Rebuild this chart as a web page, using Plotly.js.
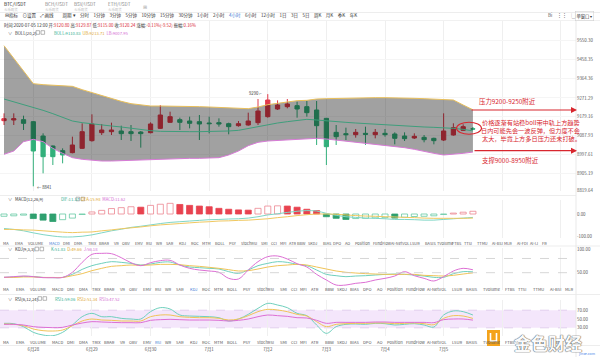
<!DOCTYPE html>
<html><head><meta charset="utf-8">
<script src="https://cdn.plot.ly/plotly-3.0.1.min.js"></script>
<style>html,body{margin:0;padding:0;background:#fff;}#chart{width:600px;height:357px;}</style>
</head><body><div id="chart"></div>
<script>
const times=["2020-06-27 12:00","2020-06-27 16:00","2020-06-27 20:00",
"2020-06-28 00:00","2020-06-28 04:00","2020-06-28 08:00","2020-06-28 12:00","2020-06-28 16:00","2020-06-28 20:00",
"2020-06-29 00:00","2020-06-29 04:00","2020-06-29 08:00","2020-06-29 12:00","2020-06-29 16:00","2020-06-29 20:00",
"2020-06-30 00:00","2020-06-30 04:00","2020-06-30 08:00","2020-06-30 12:00","2020-06-30 16:00","2020-06-30 20:00",
"2020-07-01 00:00","2020-07-01 04:00","2020-07-01 08:00","2020-07-01 12:00","2020-07-01 16:00","2020-07-01 20:00",
"2020-07-02 00:00","2020-07-02 04:00","2020-07-02 08:00","2020-07-02 12:00","2020-07-02 16:00","2020-07-02 20:00",
"2020-07-03 00:00","2020-07-03 04:00","2020-07-03 08:00","2020-07-03 12:00","2020-07-03 16:00","2020-07-03 20:00",
"2020-07-04 00:00","2020-07-04 04:00","2020-07-04 08:00","2020-07-04 12:00","2020-07-04 16:00","2020-07-04 20:00",
"2020-07-05 00:00","2020-07-05 04:00","2020-07-05 08:00","2020-07-05 12:00"];
const open=[9160.8,9164.0,9165.7,9155.9,9086.1,9037.4,9014.7,9004.9,9026.0,9063.4,9102.4,9107.2,9110.5,9107.2,9105.6,9102.4,9123.4,9152.7,9165.7,9159.2,9155.9,9149.4,9151.1,9146.2,9136.4,9139.7,9151.1,9180.3,9217.6,9229.0,9233.9,9229.0,9212.8,9172.2,9104.0,9097.5,9092.6,9099.1,9092.6,9099.1,9095.9,9086.1,9076.4,9079.6,9074.7,9066.6,9091.0,9113.7,9120.80];
const high=[9196.5,9196.5,9185.2,9159.2,9099.1,9040.0,9026.0,9082.9,9147.8,9191.7,9144.6,9151.1,9136.4,9139.7,9110.5,9152.7,9237.1,9204.6,9175.4,9180.3,9188.4,9180.3,9172.2,9151.1,9159.2,9199.8,9266.3,9290.0,9259.8,9266.3,9253.3,9256.6,9256.6,9172.2,9139.7,9126.7,9120.2,9131.6,9120.2,9120.2,9104.0,9104.0,9099.1,9091.0,9078.0,9196.5,9148.0,9142.9,9129.87];
const low=[9139.7,9139.7,9115.3,8841.0,8904.2,8944.8,8953.0,9001.7,9022.8,9058.5,9091.0,9091.0,9066.6,9061.7,9029.3,9099.1,9120.2,9151.1,9115.3,9123.4,9066.6,9099.1,9131.6,9094.2,9131.6,9136.4,9139.7,9175.4,9212.8,9220.9,9175.4,9180.3,9042.3,8944.8,9042.3,9066.6,9078.0,9042.3,9074.7,9082.9,9045.5,9061.7,9071.5,9055.3,9045.5,9061.7,9087.7,9110.5,9115.00];
const close=[9170.5,9170.5,9147.8,9013.0,8985.4,8985.4,8993.6,9042.3,9107.2,9144.6,9115.3,9115.3,9097.5,9097.5,9097.5,9144.6,9188.4,9180.3,9152.7,9147.8,9144.6,9146.2,9144.6,9131.6,9146.2,9159.2,9207.9,9261.5,9237.1,9242.0,9217.6,9199.8,9136.4,9034.1,9082.9,9092.6,9104.0,9094.2,9104.0,9092.6,9074.7,9073.1,9084.5,9068.2,9063.4,9110.5,9126.7,9131.6,9120.24];
const bollUp=[9526.1,9464.4,9399.5,9341.0,9336.2,9334.5,9332.9,9328.0,9311.8,9297.2,9284.2,9269.6,9255.0,9243.6,9237.1,9232.2,9232.2,9232.2,9230.6,9230.6,9229.0,9227.4,9225.8,9224.1,9222.5,9219.3,9227.4,9238.7,9245.2,9253.3,9258.2,9259.8,9266.3,9267.9,9269.6,9271.2,9272.8,9272.8,9272.8,9272.8,9272.8,9271.2,9269.6,9267.9,9266.3,9264.7,9261.5,9237.1,9213.71];
const bollMid=[9266.3,9253.3,9237.1,9224.1,9211.1,9194.9,9178.7,9159.2,9151.1,9144.6,9139.7,9134.8,9130.0,9123.4,9118.6,9112.1,9108.8,9107.2,9107.2,9107.2,9107.2,9107.2,9108.8,9110.5,9113.7,9123.4,9133.2,9142.9,9149.4,9155.9,9162.4,9167.3,9164.0,9159.2,9155.9,9152.7,9149.4,9146.2,9142.9,9139.7,9136.4,9133.2,9131.6,9130.0,9128.3,9126.7,9123.4,9118.6,9110.83];
const bollLow=[8996.8,9013.0,9058.5,9069.9,9058.5,9026.0,9001.7,8980.6,8972.5,8967.6,8964.3,8964.3,8966.0,8967.6,8969.2,8970.8,8974.1,8977.3,8977.3,8977.3,8977.3,8977.3,8980.6,8993.6,9013.0,9039.0,9055.3,9061.7,9065.0,9068.2,9069.9,9074.7,9074.7,9071.5,9066.6,9060.1,9055.3,9050.4,9045.5,9042.3,9035.8,9029.3,9021.2,9009.8,9001.7,8993.6,8996.8,9001.7,9007.95];
const macdHist=[-10,-8,-5,-20,-27,-33,-25,-18,-2,9,16,24,28,32,30,38,43,47,42,38,35,32,25,21,18,17,25,35,36,35,30,21,15,-12,-19,-24,-20,-19,-17,-16,-18,-14,-11,-10,-8,-2,4,8,12];
const dif=[-64,-68,-74,-83,-91,-97,-101,-101,-98,-92,-83,-74,-67,-59,-54,-48,-42,-37,-34,-31,-28,-25,-24,-22,-21,-18,-12,-4,1,7,12,15,13,3,-6,-12,-15,-18,-19,-21,-24,-24,-25,-27,-27,-24,-21,-18,-15];
const dea=[-68,-68,-70,-71,-74,-77,-80,-82,-80,-79,-74,-70,-65,-61,-57,-52,-48,-45,-42,-39,-36,-34,-31,-30,-28,-27,-24,-21,-16,-12,-7,-3,0,0,-1,-4,-7,-9,-10,-12,-13,-15,-16,-18,-19,-19,-19,-19,-18];
const kdjK=[40.2,41,42.3,42,40,39.5,40,46.5,57,64.8,69.7,73.3,71.8,69.7,66.2,68.3,71.8,72.5,66.2,62,60.6,59.2,57.8,52.2,48.6,55.7,64.8,69.7,73.3,71.8,67.6,64.8,55.7,46.5,43.7,41.6,43,43.7,45.1,46.5,47.2,46.5,45.1,43,40.2,40.2,47.9,52.2,51.83];
const kdjD=[40.2,40,41,41,40,40,40,43.7,48,54.3,59.2,63.4,64.8,66.2,65.5,66.2,67.6,67.6,66.9,64.8,63.4,61.3,59.2,56.4,53.6,54.3,57.8,62,64.8,66.2,67.6,66.2,62,57.8,53.6,50.8,49.3,48,47.2,46.5,46.5,46.5,46.5,44.4,43.7,43,44.4,47.2,49.66];
const kdjJ=[40.2,41.6,43,41.6,39.5,39.5,40,50.8,71.8,88.7,90.8,90.1,81.7,71.1,64.8,71.1,75.4,76.1,66.2,59.2,55.7,53.6,50.8,38.1,36.7,55.7,73.3,83.8,85.2,78.9,69,62,46.5,34.6,24,24,27.6,29.7,34.6,38.1,43,52.2,43.7,38.1,32.5,41.6,53.6,59.2,56.18];
const rsi1=[40.2,39.4,32.6,19.7,13.6,12.1,19.7,36.4,55.3,62.9,55.3,55.3,51.5,50,50,66.7,75.8,72.7,59.1,56.8,56.1,55.3,53,45.5,50,60.6,74.3,85.6,81.8,75.8,62.9,57.6,36.4,17.4,32.6,37.9,38.7,37.9,40.2,39.4,36.4,37.9,39.4,36.4,31.8,59.1,68.2,66.7,59.06];
const rsi2=[38.7,37.9,34.9,27.3,23.5,22.7,25,34.9,45.5,50,47.7,47,45.5,45.5,45.5,55.3,59.1,59.1,55.3,53.8,53,53,51.5,47.7,50,57.6,66.7,72,70.5,66.7,60.6,56.8,44,32.6,37.9,39.4,40.2,40.2,41,41,39.4,40.2,41,39.4,37.1,51.5,57.6,56.8,51.34];
const rsi3=[37.9,37.9,36.4,32.6,31.1,30.3,31.1,36.4,40.9,44,43.2,42.4,41.7,41.7,41.7,47,48.5,49.3,48.5,47.7,47.7,47.7,47,45.5,47,50,55.3,59.1,57.6,56.1,53,52.3,47,40.2,42.4,42.4,42.4,42.4,43.2,43.2,42.4,42.4,42.4,42.4,41.7,48.5,50,50,47.52];
const priceTicks=[9550.30,9458.35,9364.36,9271.29,9179.16,9087.93,8997.61,8905.19,8819.64];
const dayTicks=["2020-06-28","2020-06-29","2020-06-30","2020-07-01","2020-07-02","2020-07-03","2020-07-04","2020-07-05","2020-07-06","2020-07-07"];
const dayLabels=["6月28","6月29","6月30","7月1","7月2","7月3","7月4","7月5","",""];
const tabWords=["MA","EMA","VOLUME","MACD","DMI","DMA","TRIX","BRAR","VR","OBV","EMV","RSI","WR","SAR","KDJ","ROC","MTM","BOLL","PSY","StochRSI","SMI","CCI","MFI","ATR","BBW","SKDJ","BIAS","DPO","AO","Position","FundFlow","AI-NetVOL","LSUR","BASIS","TVolume","FTBS","TTSI","TTMU","AI-BSI","MLR","AI-FDI","AI-IJ","FR"];

// layout positions (pixels) of the indicator tab words
const tabX1=[6,19,36,55,66,78,92,104,116,126,139,149,159,170,182,195,206,220,233,249,264,274,283,292,301,313,327,337,347,363,382,400,415,430,445,457,468,482,497,508,522,534,544];
const tabX2=[6,20,38,57,70,83,97,110,123,133,147,158,168,180,193,206,218,233,247,265,283,294,303,315,329,342,354,367,379,395,416,437,457,472,492,510,522,538,555,569];

const W=600,H=357,FONT='"Noto Sans CJK SC","Noto Sans",sans-serif';
const fx=x=>x/W, fy=y=>1-y/H;
const RED='#e23a4a',GREEN='#32b07b',RED_T='#d8262e';
function T(x,y,text,size,color,anchor,extra){return Object.assign({xref:'paper',yref:'paper',x:fx(x),y:fy(y),text:text,showarrow:false,xanchor:anchor||'left',yanchor:'middle',font:{size:size,color:color||'#333',family:FONT}},extra||{});}
function S(c,t){return '<span style="color:'+c+'">'+t+'</span>';}

const xr=["2020-06-27 10:21:36","2020-07-07 06:12:00"];
const xbase={type:'date',range:xr,domain:[0,0.96],tickvals:dayTicks,ticktext:dayLabels,showgrid:true,gridcolor:'#efefef',gridwidth:1,zeroline:false,showline:false,ticks:'',showticklabels:false,fixedrange:true};
const ytf={size:4.4,color:'#555',family:FONT};
const ybase={side:'right',zeroline:false,showline:false,ticks:'',tickfont:ytf,fixedrange:true,showgrid:false};
const mainDom=[fy(191),fy(21)], mainRange=[8818.2,9646.3];

const histFill=macdHist.map((v,i)=>{const dec=i>0&&v<macdHist[i-1];const c=v>=0?'#e8424f':'#2fa06f';return dec?c:'#ffffff';});
const histLine=macdHist.map((v,i)=>{const dec=i>0&&v<macdHist[i-1];if(v>=0)return dec?'#e8424f':'#ec8590';return dec?'#2fa06f':'#66c9a3';});

const data=[
 {type:'candlestick',x:times,open:open,high:high,low:low,close:close,xaxis:'x',yaxis:'y',
  increasing:{line:{color:RED,width:1},fillcolor:RED},decreasing:{line:{color:GREEN,width:1},fillcolor:GREEN},whiskerwidth:0,hoverinfo:'skip'},
 {type:'scatter',mode:'lines',x:times,y:bollLow,line:{color:'#d77ad6',width:1},xaxis:'x',yaxis:'y5',hoverinfo:'skip'},
 {type:'scatter',mode:'lines',x:times,y:bollUp,fill:'tonexty',fillcolor:'rgba(0,0,0,0.37)',line:{color:'#e9bf5a',width:1},xaxis:'x',yaxis:'y5',hoverinfo:'skip'},
 {type:'scatter',mode:'lines',x:times,y:bollMid,line:{color:'#3f9e7c',width:1},xaxis:'x',yaxis:'y5',hoverinfo:'skip'},
 {type:'bar',x:times,y:macdHist,marker:{color:histFill,line:{color:histLine,width:0.8}},xaxis:'x2',yaxis:'y2',hoverinfo:'skip'},
 {type:'scatter',mode:'lines',x:times,y:dif,line:{color:'#7fd6c6',width:1,shape:'spline'},xaxis:'x2',yaxis:'y2',hoverinfo:'skip'},
 {type:'scatter',mode:'lines',x:times,y:dea,line:{color:'#f0c860',width:1,shape:'spline'},xaxis:'x2',yaxis:'y2',hoverinfo:'skip'},
 {type:'scatter',mode:'lines',x:times,y:kdjK,line:{color:'#6fd0bd',width:1,shape:'spline'},xaxis:'x3',yaxis:'y3',hoverinfo:'skip'},
 {type:'scatter',mode:'lines',x:times,y:kdjD,line:{color:'#f0c458',width:1,shape:'spline'},xaxis:'x3',yaxis:'y3',hoverinfo:'skip'},
 {type:'scatter',mode:'lines',x:times,y:kdjJ,line:{color:'#dd6fd4',width:1,shape:'spline'},xaxis:'x3',yaxis:'y3',hoverinfo:'skip'},
 {type:'scatter',mode:'lines',x:times,y:rsi1,line:{color:'#6fd0bd',width:1,shape:'spline'},xaxis:'x4',yaxis:'y4',hoverinfo:'skip'},
 {type:'scatter',mode:'lines',x:times,y:rsi2,line:{color:'#f0c458',width:1,shape:'spline'},xaxis:'x4',yaxis:'y4',hoverinfo:'skip'},
 {type:'scatter',mode:'lines',x:times,y:rsi3,line:{color:'#dd6fd4',width:1,shape:'spline'},xaxis:'x4',yaxis:'y4',hoverinfo:'skip'}
];

const ann=[];
[["BTC/USDT",2,'#222'],["BCH/USDT",43,'#888'],["BSV/USDT",72,'#888'],["ETH/USDT",106,'#888']].forEach(t=>{ann.push(T(t[1],4,t[0],4.6,t[2]));ann.push(T(t[1],9.5,'火币现货',3.4,'#bbb'));});
ann.push(T(141,6,'⊞',5,'#aaa'));
ann.push(T(3,16,'⊟指标　⊙设置　⤢画线　　周期 ▾　分时　1分钟　3分钟　5分钟　10分钟　15分钟　30分钟　1小时　2小时　'+S('#3a7bd5','4小时')+'　6小时　12小时　1日　3日　5日　周K　月K　季K　年K',4.5,'#333'));
ann.push(T(546,16,'Bi　⋮⋮　▢',4.5,'#555'));
ann.push(T(575,16,'单窗口 ▾',4.3,'#333',null,{bordercolor:'#ccc',borderwidth:0.5,borderpad:1}));
ann.push(T(2,25.5,'时间:2020-07-05 12:00 开:'+S(RED_T,'9120.80')+' 高:'+S(RED_T,'9129.87')+' 低:'+S(RED_T,'9115.00')+' 收:'+S(RED_T,'9120.24')+' 涨幅:'+S(RED_T,'-0.11%(-9.52)')+' 振幅:'+S(RED_T,'0.16%'),4.3,'#333'));
function header(y,name,vals,vx){ann.push(T(6,y,'∨',4.2,'#666'));ann.push(T(13,y,name,4.2,'#333'));
 ann.push(T(vx,y,S('#2fae8f',vals[0])+'  '+S('#e0a830',vals[1])+'  '+S('#d36bd3',vals[2]),4.2,'#333'));}
header(32.5,'BOLL(20,2)',['BOLL:9110.83','UB:9213.71','LB:9007.95'],52);
header(199,'MACD(12,26,9)',['DIF:11.37','DEA:15.98','MACD:11.62'],59);
header(249,'KDJ(9,3,3)',['K:51.83','D:49.66','J:56.18'],49);
header(298.5,'RSI(6,12,24)',['RSI1:59.06','RSI2:51.34','RSI3:47.52'],53);
function tabRow(xs,hi,y,size){xs.forEach((x,i)=>{const w=tabWords[i];ann.push(T(x,y,w,size,w===hi?'#3a7bd5':'#555','center'));});}
tabRow(tabX1,'MACD',242.5,3.9);
tabRow(tabX2,'KDJ',288.5,4.1);
tabRow(tabX2,'RSI',341.5,4.1);
ann.push(T(264,93,'9290 ⌐',4.2,'#333','right'));
ann.push(T(35,186.7,'← 8841',4.2,'#333'));
ann.push(T(477,101.5,'压力9200-9250附近',6.4,RED_T));
ann.push(T(480,122,'价格逐渐有站稳boll带中轨上方趋势',6.2,RED_T));
ann.push(T(479,130.5,'日内可能先会一波反弹，但力度不会',6.2,RED_T));
ann.push(T(480,139,'太大，毕竟上方多日压力还未打破。',6.2,RED_T));
ann.push(T(480,160,'支撑9000-8950附近',6.4,RED_T));
ann.push({xref:'paper',yref:'paper',x:fx(577),y:fy(110),ax:-107,ay:0,text:'',showarrow:true,arrowhead:2,arrowsize:1,arrowwidth:1.2,arrowcolor:RED_T});
ann.push({xref:'paper',yref:'paper',x:fx(577),y:fy(150.7),ax:-104,ay:0,text:'',showarrow:true,arrowhead:2,arrowsize:1,arrowwidth:1.2,arrowcolor:RED_T});
ann.push(T(512,342,'金色财经',17,'#ffffff',null,{font:{size:17,color:'#fbfbfb',family:FONT,weight:700,shadow:'0 0 1px #6a6a6a, 0 0 1px #6a6a6a, 0 0 1px #6a6a6a'}}));
ann.push(T(598,353.5,'jinse.com',3.6,'#4a86e8','right'));

const shapes=[];
function L(x0,y0,x1,y1,c,w,d){shapes.push({type:'line',xref:'paper',yref:'paper',x0:fx(x0),y0:fy(y0),x1:fx(x1),y1:fy(y1),line:{color:c,width:w||1,dash:d||'solid'}});}
L(0,12.5,600,12.5,'#e8e8e8',0.8);
L(0,20.5,600,20.5,'#eeeeee',0.8);
L(576,21,576,357,'#e3e3e3',0.8);
L(0,195.5,576,195.5,'#e8e8e8',0.8);
L(0,246,600,246,'#e8e8e8',0.8);
L(0,294.5,600,294.5,'#e8e8e8',0.8);
L(0,345.5,600,345.5,'#e8e8e8',0.8);
[[36,32.5],[76,199],[35,249],[38,298.5]].forEach(p=>{[0,5].forEach(o=>shapes.push({type:'rect',xref:'paper',yref:'paper',x0:fx(p[0]+o),x1:fx(p[0]+o+3.6),y0:fy(p[1]+1.8),y1:fy(p[1]-1.8),line:{color:'#888',width:0.6},fillcolor:'#fff'}));});
[80,50].forEach(v=>shapes.push({type:'line',xref:'paper',yref:'y3',x0:0,x1:0.96,y0:v,y1:v,line:{color:'#cccccc',width:0.8,dash:'dash'}}));
shapes.push({type:'rect',xref:'paper',yref:'y4',x0:0,x1:0.96,y0:30,y1:70,fillcolor:'#f4e6fb',line:{width:0},layer:'below'});
[70,30].forEach(v=>shapes.push({type:'line',xref:'paper',yref:'y4',x0:0,x1:0.96,y0:v,y1:v,line:{color:'#dcc6ea',width:0.8,dash:'dash'},layer:'below'}));
shapes.push({type:'circle',xref:'paper',yref:'paper',x0:fx(456.5),x1:fx(481.5),y0:fy(134.3),y1:fy(122.3),line:{color:RED_T,width:1.1}});
shapes.push({type:'rect',xref:'paper',yref:'paper',x0:fx(487),x1:fx(500),y0:fy(346),y1:fy(330),fillcolor:'#f4a31b',line:{width:0}});
shapes.push({type:'path',xref:'paper',yref:'paper',path:'M '+fx(490.5)+' '+fy(333)+' L '+fx(490.5)+' '+fy(341)+' L '+fx(496.5)+' '+fy(341)+' L '+fx(496.5)+' '+fy(333),line:{color:'#ffffff',width:1.6}});

const layout={
 width:W,height:H,margin:{l:0,r:0,t:0,b:0},paper_bgcolor:'#fff',plot_bgcolor:'rgba(0,0,0,0)',showlegend:false,
 boxgap:0.38,bargap:0.38,font:{family:FONT},
 xaxis:Object.assign({},xbase,{anchor:'y',rangeslider:{visible:false}}),
 xaxis2:Object.assign({},xbase,{anchor:'y2',matches:'x'}),
 xaxis3:Object.assign({},xbase,{anchor:'y3',matches:'x'}),
 xaxis4:Object.assign({},xbase,{anchor:'y4',matches:'x',showticklabels:true,tickfont:{size:4.4,color:'#555',family:FONT},ticklabelstandoff:10}),
 yaxis:Object.assign({},ybase,{anchor:'x',domain:mainDom,range:mainRange,tickvals:priceTicks,ticktext:priceTicks.map(v=>v.toFixed(2)),showgrid:true,gridcolor:'#f5f5f5'}),
 yaxis5:{overlaying:'y',anchor:'x',range:mainRange,visible:false,fixedrange:true,side:'right'},
 yaxis2:Object.assign({},ybase,{anchor:'x2',domain:[fy(238),fy(200)],range:[-105.7,61.7],tickvals:[0,-100],ticktext:['0.00','-100.00']}),
 yaxis3:Object.assign({},ybase,{anchor:'x3',domain:[fy(290),fy(248)],range:[13.5,102.1],tickvals:[100,50],ticktext:['100.00','50.00']}),
 yaxis4:Object.assign({},ybase,{anchor:'x4',domain:[fy(336),fy(300)],range:[11.4,93.2],tickvals:[70,50,30],ticktext:['70.00','50.00','30.00']}),
 annotations:ann,shapes:shapes
};
Plotly.newPlot('chart',data,layout,{staticPlot:true,displayModeBar:false});
</script></body></html>
